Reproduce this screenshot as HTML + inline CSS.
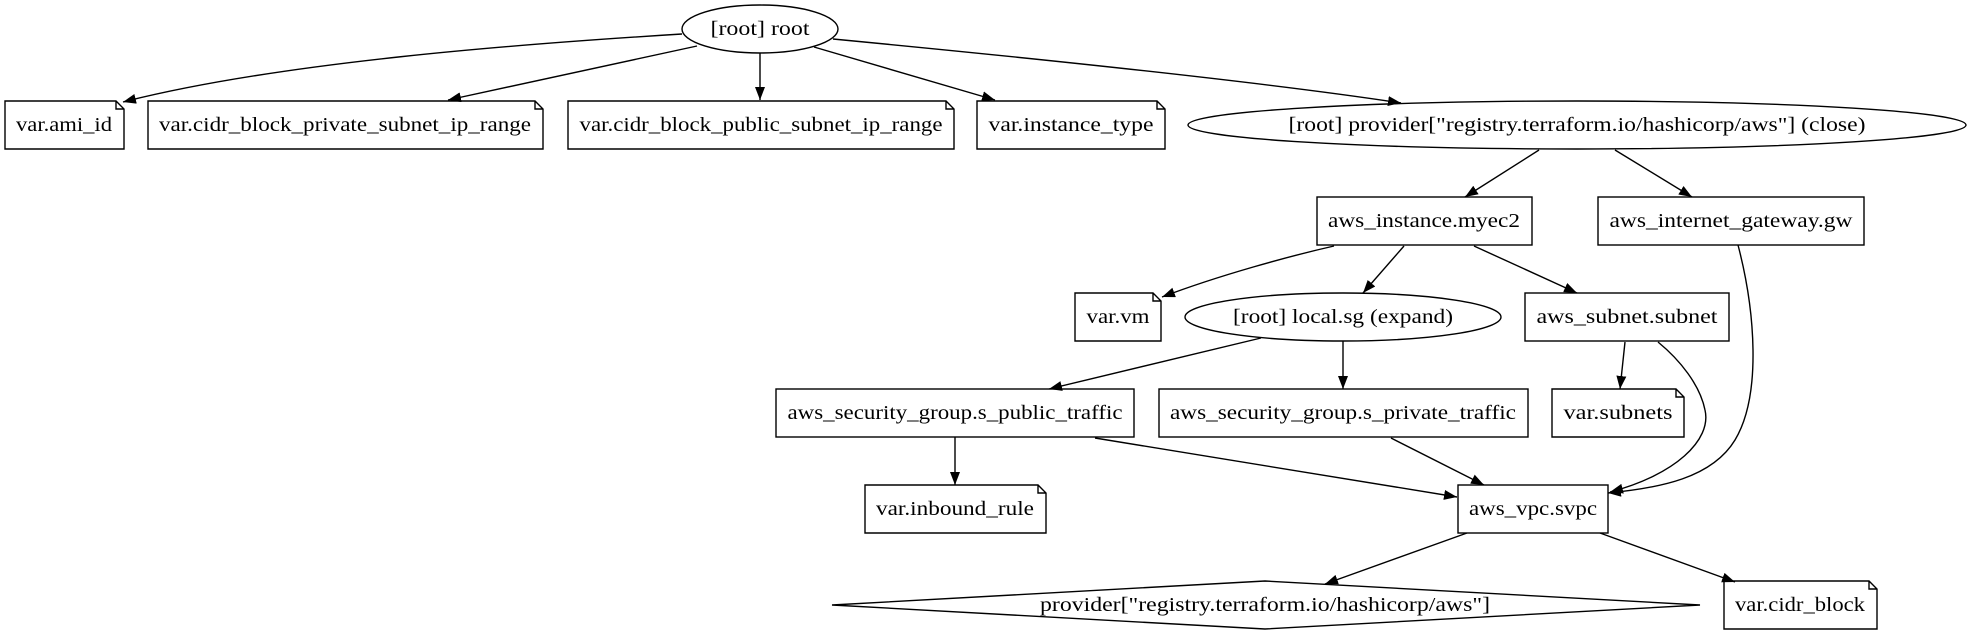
<!DOCTYPE html>
<html><head><meta charset="utf-8"><style>
html,body{margin:0;padding:0;background:#fff;}
svg{display:block;}
text{font-family:"Liberation Serif",serif;font-size:20px;fill:#000;text-anchor:middle;dominant-baseline:central;}
.s{fill:none;stroke:#000;stroke-width:1.4;}
.e{fill:none;stroke:#000;stroke-width:1.4;marker-end:url(#a);}
</style></head><body>
<svg width="1972" height="635" viewBox="0 0 1972 635" xmlns="http://www.w3.org/2000/svg">
<defs><marker id="a" markerUnits="userSpaceOnUse" markerWidth="16" markerHeight="12" refX="13" refY="5" orient="auto"><path d="M0,0 L13,5 L0,10 Z" fill="#000"/></marker></defs>
<!-- nodes -->
<ellipse class="s" cx="760" cy="29" rx="78" ry="24"/><text x="760" y="29" textLength="99" lengthAdjust="spacingAndGlyphs">[root] root</text>
<path class="s" d="M5,101 H116 L124,109 V149 H5 Z M116,101 V109 H124"/><text x="64" y="125" textLength="96" lengthAdjust="spacingAndGlyphs">var.ami_id</text>
<path class="s" d="M148,101 H535 L543,109 V149 H148 Z M535,101 V109 H543"/><text x="345" y="125" textLength="372" lengthAdjust="spacingAndGlyphs">var.cidr_block_private_subnet_ip_range</text>
<path class="s" d="M568,101 H946 L954,109 V149 H568 Z M946,101 V109 H954"/><text x="761" y="125" textLength="363" lengthAdjust="spacingAndGlyphs">var.cidr_block_public_subnet_ip_range</text>
<path class="s" d="M977,101 H1157 L1165,109 V149 H977 Z M1157,101 V109 H1165"/><text x="1071" y="125" textLength="165" lengthAdjust="spacingAndGlyphs">var.instance_type</text>
<ellipse class="s" cx="1577" cy="125" rx="389" ry="24"/><text x="1577" y="125" textLength="577" lengthAdjust="spacingAndGlyphs">[root] provider["registry.terraform.io/hashicorp/aws"] (close)</text>
<rect class="s" x="1317" y="197" width="215" height="48"/><text x="1424" y="221" textLength="192" lengthAdjust="spacingAndGlyphs">aws_instance.myec2</text>
<rect class="s" x="1598" y="197" width="266" height="48"/><text x="1731" y="221" textLength="243" lengthAdjust="spacingAndGlyphs">aws_internet_gateway.gw</text>
<path class="s" d="M1075,293 H1153 L1161,301 V341 H1075 Z M1153,293 V301 H1161"/><text x="1118" y="317" textLength="63" lengthAdjust="spacingAndGlyphs">var.vm</text>
<ellipse class="s" cx="1343" cy="317" rx="158" ry="24"/><text x="1343" y="317" textLength="220" lengthAdjust="spacingAndGlyphs">[root] local.sg (expand)</text>
<rect class="s" x="1525" y="293" width="204" height="48"/><text x="1627" y="317" textLength="181" lengthAdjust="spacingAndGlyphs">aws_subnet.subnet</text>
<rect class="s" x="776" y="389" width="358" height="48"/><text x="955" y="413" textLength="335" lengthAdjust="spacingAndGlyphs">aws_security_group.s_public_traffic</text>
<rect class="s" x="1159" y="389" width="369" height="48"/><text x="1343" y="413" textLength="346" lengthAdjust="spacingAndGlyphs">aws_security_group.s_private_traffic</text>
<path class="s" d="M1552,389 H1676 L1684,397 V437 H1552 Z M1676,389 V397 H1684"/><text x="1618" y="413" textLength="109" lengthAdjust="spacingAndGlyphs">var.subnets</text>
<path class="s" d="M865,485 H1038 L1046,493 V533 H865 Z M1038,485 V493 H1046"/><text x="955" y="509" textLength="158" lengthAdjust="spacingAndGlyphs">var.inbound_rule</text>
<rect class="s" x="1458" y="485" width="150" height="48"/><text x="1533" y="509" textLength="128" lengthAdjust="spacingAndGlyphs">aws_vpc.svpc</text>
<polygon class="s" points="1265,581 1700,605 1265,629 832,605"/><text x="1265" y="605" textLength="450" lengthAdjust="spacingAndGlyphs">provider["registry.terraform.io/hashicorp/aws"]</text>
<path class="s" d="M1724,581 H1869 L1877,589 V629 H1724 Z M1869,581 V589 H1877"/><text x="1800" y="605" textLength="130" lengthAdjust="spacingAndGlyphs">var.cidr_block</text>
<!-- edges -->
<path class="e" d="M682,34 C520,44 280,62 123,102"/>
<path class="e" d="M697,46 L448,100"/>
<path class="e" d="M760,53 L760,100"/>
<path class="e" d="M814,47 L995,100"/>
<path class="e" d="M833,39 C1000,55 1250,80 1401,103"/>
<path class="e" d="M1539,150 L1465,197"/>
<path class="e" d="M1615,150 L1692,197"/>
<path class="e" d="M1334,246 C1290,256 1220,275 1162,297"/>
<path class="e" d="M1404,246 L1363,293"/>
<path class="e" d="M1474,246 L1577,293"/>
<path class="e" d="M1738,245 C1755,310 1762,395 1735,440 C1712,478 1660,488 1608,493"/>
<path class="e" d="M1625,342 L1620,389"/>
<path class="e" d="M1658,342 C1680,360 1700,385 1705,410 C1712,440 1675,475 1610,492"/>
<path class="e" d="M1261,338 L1049,389"/>
<path class="e" d="M1343,341 L1343,389"/>
<path class="e" d="M955,437 L955,485"/>
<path class="e" d="M1095,438 L1457,497"/>
<path class="e" d="M1391,438 L1484,485"/>
<path class="e" d="M1467,533 L1325,584"/>
<path class="e" d="M1600,533 L1735,582"/>
</svg>
</body></html>
